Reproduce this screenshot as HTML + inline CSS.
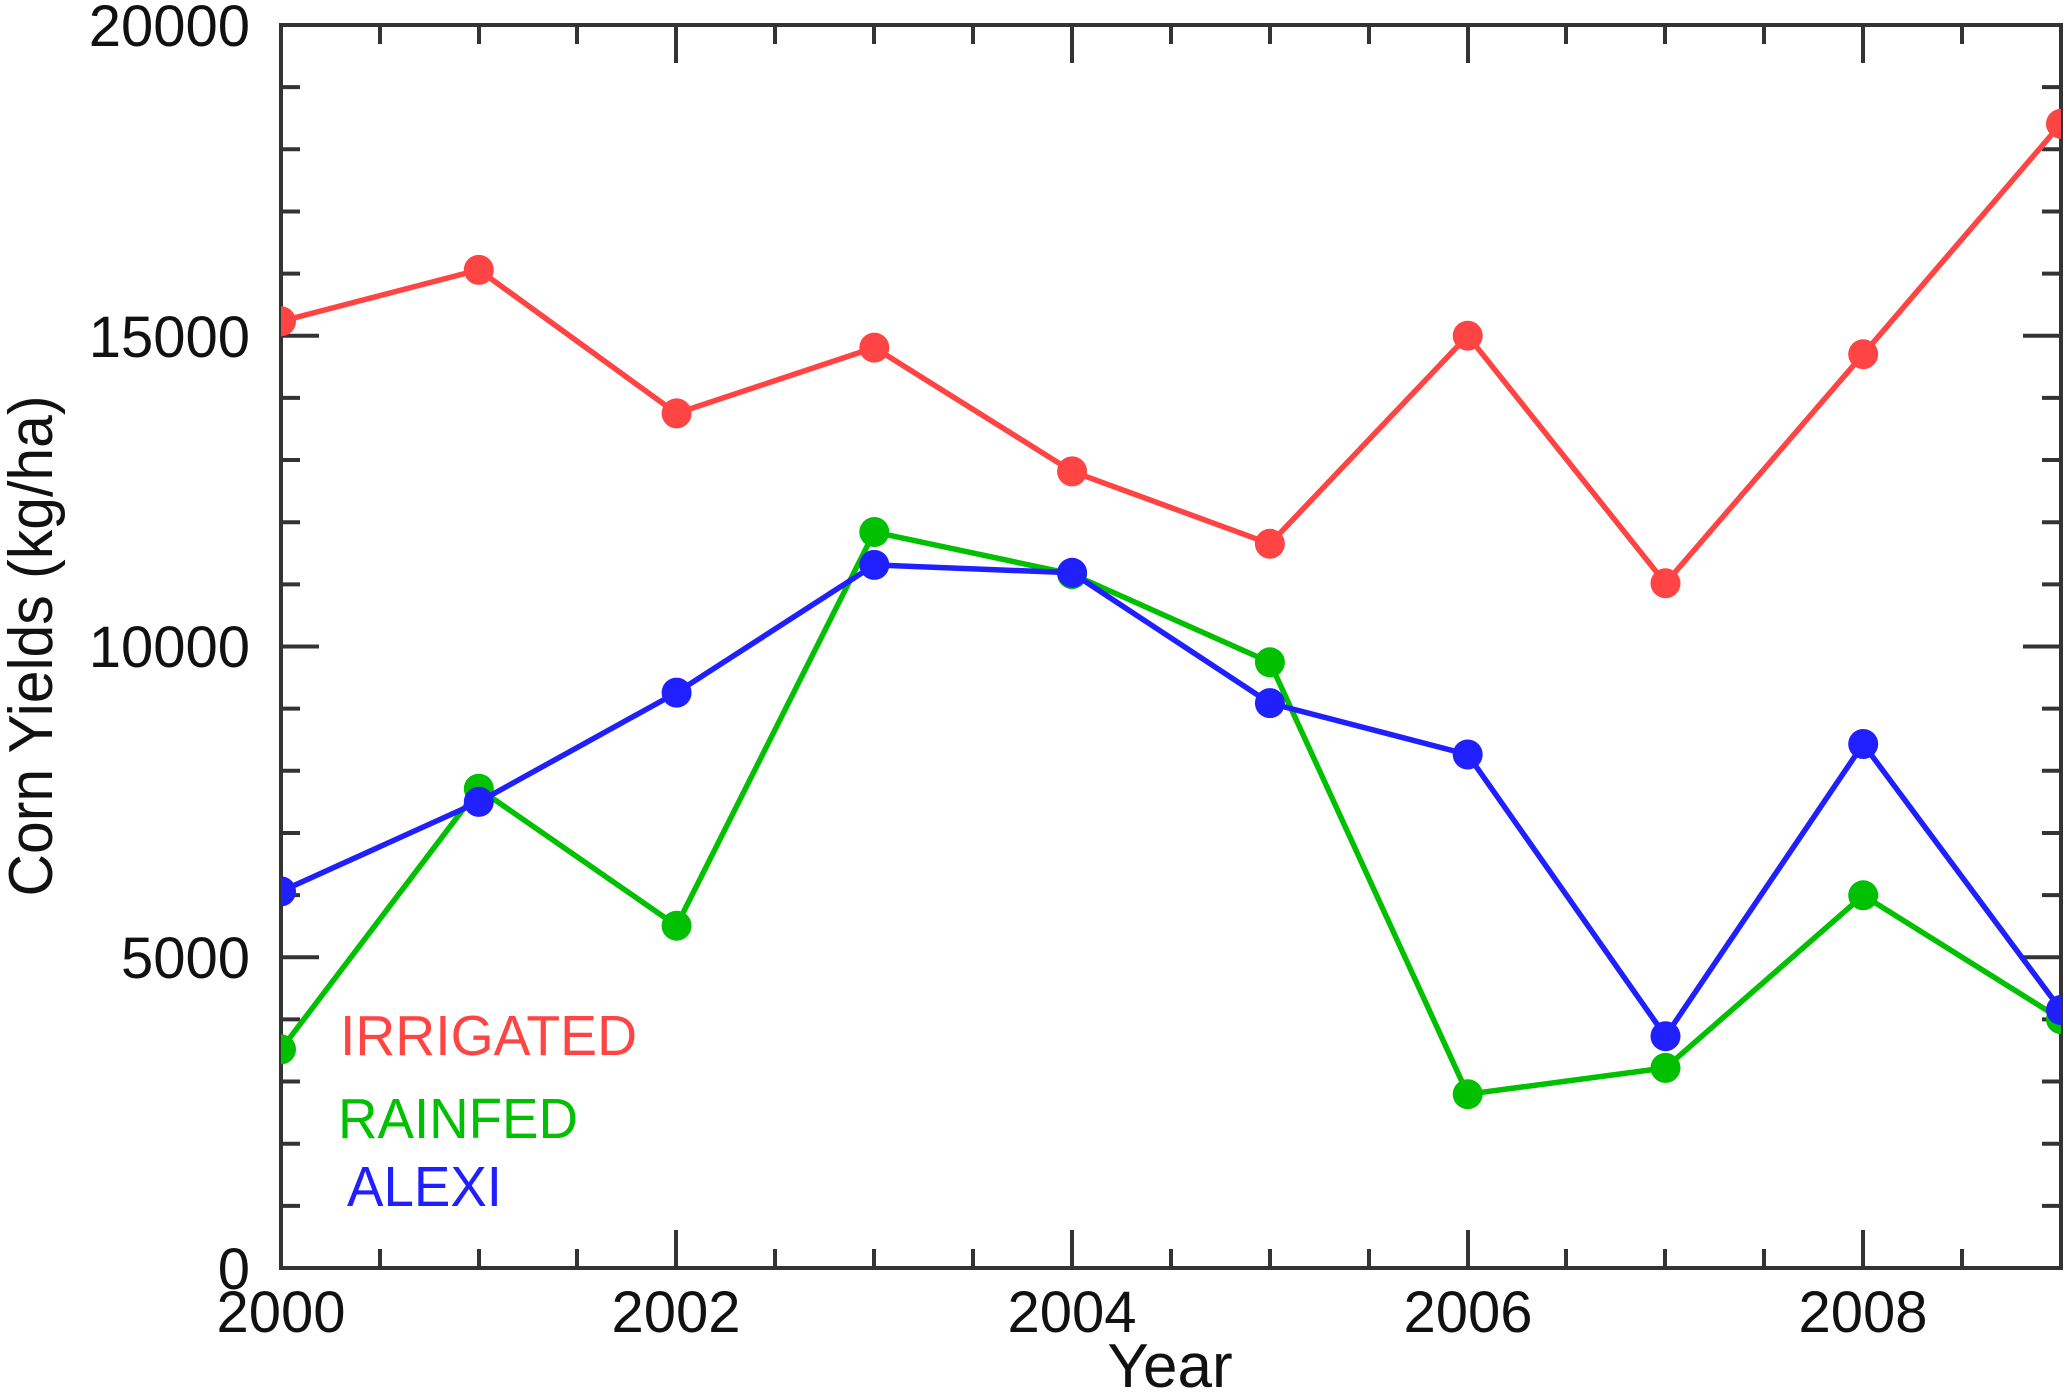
<!DOCTYPE html>
<html><head><meta charset="utf-8"><style>
html,body{margin:0;padding:0;background:#fff;}
svg{display:block;font-family:"Liberation Sans",Arial,sans-serif;}
</style></head><body>
<svg width="2068" height="1393" viewBox="0 0 2068 1393" xmlns="http://www.w3.org/2000/svg">
<defs><clipPath id="c"><rect x="281" y="25" width="1780" height="1243"/></clipPath></defs>
<g stroke="#333" stroke-width="4" fill="none">
<rect x="281" y="25" width="1780" height="1243"/>
<path d="
M281,1268v-38 M380,1268v-19 M479,1268v-19 M577,1268v-19 M676,1268v-38 M775,1268v-19 M874,1268v-19 M973,1268v-19 M1072,1268v-38 M1171,1268v-19 M1270,1268v-19 M1369,1268v-19 M1468,1268v-38 M1566,1268v-19 M1665,1268v-19 M1764,1268v-19 M1863,1268v-38 M1962,1268v-19
M380,25v19 M479,25v19 M577,25v19 M676,25v38 M775,25v19 M874,25v19 M973,25v19 M1072,25v38 M1171,25v19 M1270,25v19 M1369,25v19 M1468,25v38 M1566,25v19 M1665,25v19 M1764,25v19 M1863,25v38 M1962,25v19
M281,1205.85h19 M281,1143.7h19 M281,1081.55h19 M281,1019.4h19 M281,957.25h38 M281,895.1h19 M281,832.95h19 M281,770.8h19 M281,708.65h19 M281,646.5h38 M281,584.35h19 M281,522.2h19 M281,460.05h19 M281,397.9h19 M281,335.75h38 M281,273.6h19 M281,211.45h19 M281,149.3h19 M281,87.15h19
M2061,1205.85h-19 M2061,1143.7h-19 M2061,1081.55h-19 M2061,1019.4h-19 M2061,957.25h-38 M2061,895.1h-19 M2061,832.95h-19 M2061,770.8h-19 M2061,708.65h-19 M2061,646.5h-38 M2061,584.35h-19 M2061,522.2h-19 M2061,460.05h-19 M2061,397.9h-19 M2061,335.75h-38 M2061,273.6h-19 M2061,211.45h-19 M2061,149.3h-19 M2061,87.15h-19
"/>
</g>
<g font-size="58" fill="#111" text-anchor="end">
<text x="250" y="46">20000</text>
<text x="250" y="357">15000</text>
<text x="250" y="667">10000</text>
<text x="250" y="978">5000</text>
<text x="250" y="1289">0</text>
</g>
<g font-size="58" fill="#111" text-anchor="middle">
<text x="281" y="1332">2000</text>
<text x="676" y="1332">2002</text>
<text x="1072" y="1332">2004</text>
<text x="1468" y="1332">2006</text>
<text x="1863" y="1332">2008</text>
<text x="1170" y="1387" font-size="62">Year</text>
</g>
<text transform="translate(52,646) rotate(-90)" font-size="62" fill="#111" text-anchor="middle" textLength="501" lengthAdjust="spacingAndGlyphs">Corn Yields (kg/ha)</text>
<g clip-path="url(#c)">
<g fill="#ff4444">
<polyline fill="none" stroke="#ff4444" stroke-width="5.5" stroke-linejoin="round" points="281,321.3 478.8,269.9 676.6,413.4 874.3,347.6 1072.1,471.4 1269.9,543.8 1467.7,335.7 1665.5,583.3 1863.2,354.2 2061,123.8"/>
<circle cx="281" cy="321.3" r="15"/><circle cx="478.8" cy="269.9" r="15"/><circle cx="676.6" cy="413.4" r="15"/><circle cx="874.3" cy="347.6" r="15"/><circle cx="1072.1" cy="471.4" r="15"/><circle cx="1269.9" cy="543.8" r="15"/><circle cx="1467.7" cy="335.7" r="15"/><circle cx="1665.5" cy="583.3" r="15"/><circle cx="1863.2" cy="354.2" r="15"/><circle cx="2061" cy="123.8" r="15"/>
</g>
<g fill="#00c000">
<polyline fill="none" stroke="#00c000" stroke-width="5.5" stroke-linejoin="round" points="281,1049.4 478.8,788.7 676.6,925.7 874.3,532 1072.1,574.1 1269.9,662.3 1467.7,1094.2 1665.5,1067.9 1863.2,895.3 2061,1019.2"/>
<circle cx="281" cy="1049.4" r="15"/><circle cx="478.8" cy="788.7" r="15"/><circle cx="676.6" cy="925.7" r="15"/><circle cx="874.3" cy="532" r="15"/><circle cx="1072.1" cy="574.1" r="15"/><circle cx="1269.9" cy="662.3" r="15"/><circle cx="1467.7" cy="1094.2" r="15"/><circle cx="1665.5" cy="1067.9" r="15"/><circle cx="1863.2" cy="895.3" r="15"/><circle cx="2061" cy="1019.2" r="15"/>
</g>
<g fill="#2020ff">
<polyline fill="none" stroke="#2020ff" stroke-width="5.5" stroke-linejoin="round" points="281,891.4 478.8,801.9 676.6,692.6 874.3,564.9 1072.1,572.8 1269.9,703.1 1467.7,754.5 1665.5,1036.2 1863.2,744 2061,1010"/>
<circle cx="281" cy="891.4" r="15"/><circle cx="478.8" cy="801.9" r="15"/><circle cx="676.6" cy="692.6" r="15"/><circle cx="874.3" cy="564.9" r="15"/><circle cx="1072.1" cy="572.8" r="15"/><circle cx="1269.9" cy="703.1" r="15"/><circle cx="1467.7" cy="754.5" r="15"/><circle cx="1665.5" cy="1036.2" r="15"/><circle cx="1863.2" cy="744" r="15"/><circle cx="2061" cy="1010" r="15"/>
</g>
</g>
<g font-size="57">
<text x="340" y="1055" fill="#ff4444" textLength="297" lengthAdjust="spacingAndGlyphs">IRRIGATED</text>
<text x="338" y="1138" fill="#00c000" textLength="240" lengthAdjust="spacingAndGlyphs">RAINFED</text>
<text x="347" y="1206" fill="#2020ff" textLength="155" lengthAdjust="spacingAndGlyphs">ALEXI</text>
</g>
</svg>
</body></html>
